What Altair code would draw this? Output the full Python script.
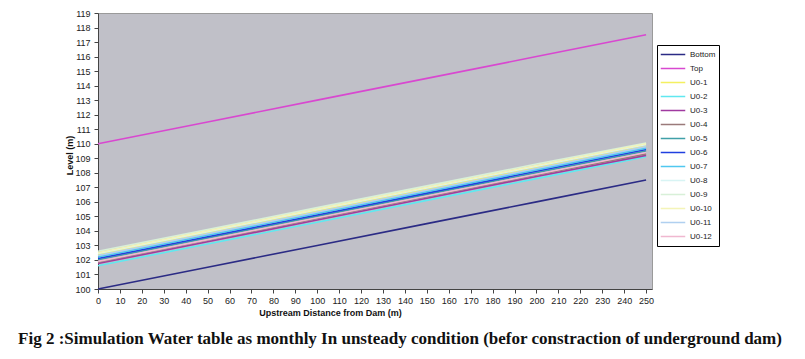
import altair as alt
import pandas as pd

distance = [0, 50, 100, 150, 200, 250]

series_names = ["Bottom", "Top", "U0-1", "U0-2", "U0-3", "U0-4", "U0-5", "U0-6",
                "U0-7", "U0-8", "U0-9", "U0-10", "U0-11", "U0-12"]

bottom = [100.0, 101.5, 103.0, 104.5, 106.0, 107.5]
top = [110.0, 111.5, 113.0, 114.5, 116.0, 117.5]
u0_1 = [102.35, 103.85, 105.35, 106.85, 108.35, 109.85]
u0_2 = [101.6, 103.1, 104.6, 106.1, 107.6, 109.1]
u0_3 = [101.75, 103.25, 104.75, 106.25, 107.75, 109.2]
u0_4 = [101.85, 103.35, 104.85, 106.35, 107.85, 109.3]
u0_5 = [102.0, 103.5, 105.0, 106.5, 108.0, 109.5]
u0_6 = [102.1, 103.6, 105.1, 106.6, 108.1, 109.6]
u0_7 = [102.2, 103.7, 105.2, 106.7, 108.2, 109.7]
u0_8 = [102.45, 103.95, 105.45, 106.95, 108.45, 109.95]
u0_9 = [102.6, 104.1, 105.6, 107.1, 108.6, 110.05]
u0_10 = [102.5, 104.0, 105.5, 107.0, 108.5, 110.0]
u0_11 = [102.3, 103.8, 105.3, 106.8, 108.3, 109.8]
u0_12 = [101.9, 103.4, 104.9, 106.4, 107.9, 109.4]

series_values = [bottom, top, u0_1, u0_2, u0_3, u0_4, u0_5, u0_6,
                 u0_7, u0_8, u0_9, u0_10, u0_11, u0_12]

series_colors = ["#2b2b85", "#d848d0", "#f4f060", "#60e8f0", "#a03aa0", "#9a7a7a",
                 "#40a0a8", "#2040e0", "#50c8f0", "#d8f4f4", "#d8f0d8", "#f4f4b8",
                 "#b0d0f0", "#f0b8d0"]

x_ticks = list(range(0, 251, 10))
y_ticks = list(range(100, 120))

caption = ("Fig 2 :Simulation Water table as monthly In unsteady condition "
           "(befor constraction of underground dam)")

rows = []
for name, vals in zip(series_names, series_values):
    for d, v in zip(distance, vals):
        rows.append({"distance": d, "level": v, "series": name})
df = pd.DataFrame(rows)

chart = alt.Chart(df).mark_line(strokeWidth=1.6).encode(
    x=alt.X("distance:Q",
            scale=alt.Scale(domain=[0, 252.7], nice=False, zero=False),
            axis=alt.Axis(values=x_ticks, title="Upstream Distance from Dam (m)",
                          grid=False, labelFont="Liberation Sans", labelFontSize=9,
                          labelColor="#222", tickColor="#444", domainColor="#444",
                          tickSize=4, labelPadding=3, labelFlush=False,
                          titleFont="Liberation Sans", titleFontSize=9,
                          titleFontWeight="bold", titleX=232, titleY=19,
                          titleColor="#111")),
    y=alt.Y("level:Q",
            scale=alt.Scale(domain=[100, 119], nice=False, zero=False),
            axis=alt.Axis(values=y_ticks, title="Level (m)", grid=False,
                          labelFont="Liberation Sans", labelFontSize=9,
                          labelColor="#222", tickColor="#444", domainColor="#444",
                          tickSize=4, labelPadding=4,
                          titleFont="Liberation Sans", titleFontSize=9,
                          titleFontWeight="bold", titleX=-24, titleY=142,
                          titleColor="#111")),
    color=alt.Color("series:N",
                    scale=alt.Scale(domain=series_names, range=series_colors),
                    sort=series_names,
                    legend=alt.Legend(title=None, orient="none", legendX=559,
                                      legendY=32, symbolType="stroke",
                                      symbolSize=600, symbolStrokeWidth=1.5,
                                      clipHeight=13,
                                      labelFont="Liberation Sans", labelFontSize=8,
                                      labelColor="#222", rowPadding=1,
                                      padding=3, strokeColor="#000",
                                      fillColor="#ffffff", labelLimit=60)),
    order=alt.Order("distance:Q"),
).properties(
    width=554,
    height=276,
    padding={"left": 90, "top": 5, "right": 145, "bottom": 62},
    autosize=alt.AutoSizeParams(type="none"),
    title=alt.TitleParams(caption, orient="bottom", anchor="middle",
                          font="Liberation Serif", fontSize=17,
                          fontWeight="bold", color="#111", offset=14, dx=25),
).configure(
    background="#ffffff"
).configure_view(
    fill="#c0c0c8", stroke="#9a9a9a", strokeWidth=1
)

chart.save("out.html", embed_options={"renderer": "svg", "actions": False})
